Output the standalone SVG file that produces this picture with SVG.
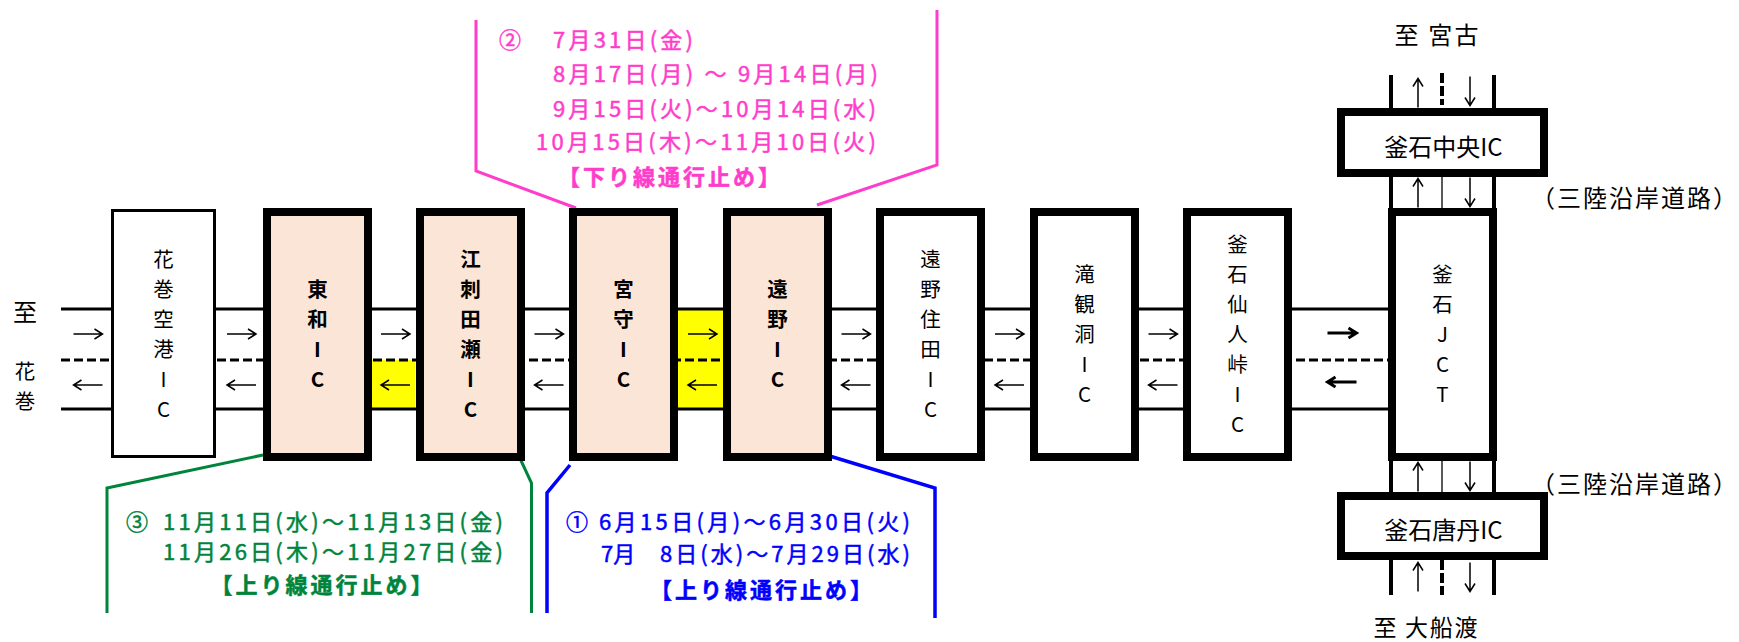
<svg xmlns="http://www.w3.org/2000/svg" xmlns:xlink="http://www.w3.org/1999/xlink" width="1739" height="642" viewBox="0 0 1739 642">
<style>
  text { font-family: "Noto Sans CJK JP", "Noto Sans", sans-serif; }
  .lbl { font-size: 24px; fill: #000; dominant-baseline: central; text-anchor: middle; }
  .v { font-size: 20.5px; }
  .b { font-weight: bold; }
  .box { stroke: #000; stroke-width: 8; }
  .peach { fill: #FBE5D6; }
  .white { fill: #FFFFFF; }
  .road { stroke: #000; stroke-width: 3; fill: none; }
  .dash { stroke: #000; stroke-width: 3; stroke-dasharray: 9 4; fill: none; }
  .vroad { stroke: #000; stroke-width: 4; fill: none; }
  .vdash { stroke: #000; stroke-width: 4; stroke-dasharray: 10 3; fill: none; }
  .thin { stroke: #000; stroke-width: 1.3; fill: none; }
  .arr { stroke: #000; stroke-width: 1.5; fill: none; }
  .arrb { stroke: #000; stroke-width: 3; fill: none; }
  .yel { fill: #FFFF00; }
  .pk { stroke: #FF3DCB; stroke-width: 3; fill: none; }
  .gr { stroke: #00843C; stroke-width: 3; fill: none; }
  .bl { stroke: #0000FF; stroke-width: 3.5; fill: none; }
  .note { font-size: 22px; dominant-baseline: central; stroke-width: 0.5; }
  .tpk { fill: #FF3DCB; stroke: #FF3DCB; }
  .tgr { fill: #00843C; stroke: #00843C; }
  .tbl { fill: #0000FF; stroke: #0000FF; }
</style>
<defs>
  <path id="ar" d="M-14.5,0 H14.5 M6.5,-5 L14.5,0 L6.5,5"/>
</defs>

<rect x="0" y="0" width="1739" height="642" fill="#FFFFFF"/>

<!-- yellow closed sections -->
<rect class="yel" x="372" y="360" width="43" height="49"/>
<rect class="yel" x="678" y="309" width="45" height="100"/>

<g id="connectors">
  <!-- main road -->
  <line class="road" x1="61" y1="309" x2="1390" y2="309"/>
  <line class="road" x1="61" y1="409" x2="1390" y2="409"/>
  <line class="dash" x1="61" y1="360" x2="1390" y2="360"/>
  <!-- arrows on main road -->
  <g class="arr">
    <use xlink:href="#ar" transform="translate(88,334)"/>
    <use xlink:href="#ar" transform="translate(88,385) rotate(180)"/>
    <use xlink:href="#ar" transform="translate(241.5,334)"/>
    <use xlink:href="#ar" transform="translate(241.5,385) rotate(180)"/>
    <use xlink:href="#ar" transform="translate(395.5,334)"/>
    <use xlink:href="#ar" transform="translate(395.5,385) rotate(180)"/>
    <use xlink:href="#ar" transform="translate(549,334)"/>
    <use xlink:href="#ar" transform="translate(549,385) rotate(180)"/>
    <use xlink:href="#ar" transform="translate(702.5,334)"/>
    <use xlink:href="#ar" transform="translate(702.5,385) rotate(180)"/>
    <use xlink:href="#ar" transform="translate(856,334)"/>
    <use xlink:href="#ar" transform="translate(856,385) rotate(180)"/>
    <use xlink:href="#ar" transform="translate(1009.5,334)"/>
    <use xlink:href="#ar" transform="translate(1009.5,385) rotate(180)"/>
    <use xlink:href="#ar" transform="translate(1163,334)"/>
    <use xlink:href="#ar" transform="translate(1163,385) rotate(180)"/>
  </g>
  <g class="arrb">
    <use xlink:href="#ar" transform="translate(1342,333)"/>
    <use xlink:href="#ar" transform="translate(1342,382) rotate(180)"/>
  </g>
  <!-- vertical road (Sanriku) -->
  <line class="vroad" x1="1391" y1="75" x2="1391" y2="108"/>
  <line class="vroad" x1="1494" y1="75" x2="1494" y2="108"/>
  <line class="vdash" x1="1442" y1="73" x2="1442" y2="105"/>
  <line class="vroad" x1="1391" y1="177" x2="1391" y2="208"/>
  <line class="vroad" x1="1494" y1="177" x2="1494" y2="208"/>
  <line class="thin" x1="1442" y1="177" x2="1442" y2="208"/>
  <line class="vroad" x1="1391" y1="461" x2="1391" y2="492"/>
  <line class="vroad" x1="1494" y1="461" x2="1494" y2="492"/>
  <line class="thin" x1="1442" y1="461" x2="1442" y2="492"/>
  <line class="vroad" x1="1391" y1="560" x2="1391" y2="595"/>
  <line class="vroad" x1="1494" y1="560" x2="1494" y2="595"/>
  <line class="vdash" x1="1442" y1="560" x2="1442" y2="595"/>
  <g class="arr">
    <use xlink:href="#ar" transform="translate(1418,93) rotate(-90)"/>
    <use xlink:href="#ar" transform="translate(1470,91) rotate(90)"/>
    <use xlink:href="#ar" transform="translate(1418,193) rotate(-90)"/>
    <use xlink:href="#ar" transform="translate(1470,192) rotate(90)"/>
    <use xlink:href="#ar" transform="translate(1418,477) rotate(-90)"/>
    <use xlink:href="#ar" transform="translate(1470,476) rotate(90)"/>
    <use xlink:href="#ar" transform="translate(1418,577) rotate(-90)"/>
    <use xlink:href="#ar" transform="translate(1470,577) rotate(90)"/>
  </g>
  <!-- callout lines -->
  <polyline class="pk" points="476,20 476,171 576,208"/>
  <polyline class="pk" points="937,10 937,165 817,205"/>
  <polyline class="gr" points="263,455 107,488 107,613"/>
  <polyline class="gr" points="517,452 531.5,483 531.5,613"/>
  <polyline class="bl" points="570,465 547,493 547,613"/>
  <polyline class="bl" points="823,454 935,488 935,618"/>
</g>

<!-- left end label -->
<g id="to-hanamaki">
  <text class="lbl" x="25" y="310">至</text>
  <text class="lbl v" x="25" y="370">花</text>
  <text class="lbl v" x="25" y="400">巻</text>
</g>

<g id="hanamakikuko">
  <rect x="112.5" y="210.5" width="102" height="246" fill="#FFFFFF" stroke="#000" stroke-width="3"/>
  <text class="lbl v" x="163.5" y="258"><tspan x="163.5">花</tspan><tspan x="163.5" dy="30">巻</tspan><tspan x="163.5" dy="30">空</tspan><tspan x="163.5" dy="30">港</tspan><tspan x="163.5" dy="30">I</tspan><tspan x="163.5" dy="30">C</tspan></text>
</g>
<g id="towa">
  <rect class="box peach" x="267" y="212" width="101" height="245"/>
  <text class="lbl v b" x="317.5" y="288"><tspan x="317.5">東</tspan><tspan x="317.5" dy="30">和</tspan><tspan x="317.5" dy="30">I</tspan><tspan x="317.5" dy="30">C</tspan></text>
</g>
<g id="esashitase">
  <rect class="box peach" x="420" y="212" width="101" height="245"/>
  <text class="lbl v b" x="470.5" y="258"><tspan x="470.5">江</tspan><tspan x="470.5" dy="30">刺</tspan><tspan x="470.5" dy="30">田</tspan><tspan x="470.5" dy="30">瀬</tspan><tspan x="470.5" dy="30">I</tspan><tspan x="470.5" dy="30">C</tspan></text>
</g>
<g id="miyamori">
  <rect class="box peach" x="573" y="212" width="101" height="245"/>
  <text class="lbl v b" x="623.5" y="288"><tspan x="623.5">宮</tspan><tspan x="623.5" dy="30">守</tspan><tspan x="623.5" dy="30">I</tspan><tspan x="623.5" dy="30">C</tspan></text>
</g>
<g id="tono">
  <rect class="box peach" x="727" y="212" width="101" height="245"/>
  <text class="lbl v b" x="777.5" y="288"><tspan x="777.5">遠</tspan><tspan x="777.5" dy="30">野</tspan><tspan x="777.5" dy="30">I</tspan><tspan x="777.5" dy="30">C</tspan></text>
</g>
<g id="tonosumita">
  <rect class="box white" x="880" y="212" width="101" height="245"/>
  <text class="lbl v" x="930.5" y="258"><tspan x="930.5">遠</tspan><tspan x="930.5" dy="30">野</tspan><tspan x="930.5" dy="30">住</tspan><tspan x="930.5" dy="30">田</tspan><tspan x="930.5" dy="30">I</tspan><tspan x="930.5" dy="30">C</tspan></text>
</g>
<g id="takikanto">
  <rect class="box white" x="1034" y="212" width="101" height="245"/>
  <text class="lbl v" x="1084.5" y="273"><tspan x="1084.5">滝</tspan><tspan x="1084.5" dy="30">観</tspan><tspan x="1084.5" dy="30">洞</tspan><tspan x="1084.5" dy="30">I</tspan><tspan x="1084.5" dy="30">C</tspan></text>
</g>
<g id="kamaishisenninto">
  <rect class="box white" x="1187" y="212" width="101" height="245"/>
  <text class="lbl v" x="1237.5" y="243"><tspan x="1237.5">釜</tspan><tspan x="1237.5" dy="30">石</tspan><tspan x="1237.5" dy="30">仙</tspan><tspan x="1237.5" dy="30">人</tspan><tspan x="1237.5" dy="30">峠</tspan><tspan x="1237.5" dy="30">I</tspan><tspan x="1237.5" dy="30">C</tspan></text>
</g>
<g id="kamaishijct">
  <rect class="box white" x="1392" y="212" width="101" height="245"/>
  <text class="lbl v" x="1442.5" y="273"><tspan x="1442.5">釜</tspan><tspan x="1442.5" dy="30">石</tspan><tspan x="1442.5" dy="30">J</tspan><tspan x="1442.5" dy="30">C</tspan><tspan x="1442.5" dy="30">T</tspan></text>
</g>
<g id="kamaishichuo">
  <rect class="box white" x="1341" y="112" width="203" height="61"/>
  <text class="lbl" x="1443.5" y="145">釜石中央IC</text>
</g>
<g id="kamaishitoni">
  <rect class="box white" x="1341" y="496" width="203" height="60"/>
  <text class="lbl" x="1443.5" y="528">釜石唐丹IC</text>
</g>
<g id="to-miyako">
  <text class="lbl" x="1436.5" y="33" textLength="84">至 宮古</text>
</g>
<g id="to-ofunato">
  <text class="lbl" x="1425.5" y="626" textLength="104" style="font-size:23px">至 大船渡</text>
</g>
<g id="sanriku-labels">
  <text class="lbl" x="1634" y="196" textLength="206">（三陸沿岸道路）</text>
  <text class="lbl" x="1634" y="482" textLength="206">（三陸沿岸道路）</text>
</g>

<!-- notes -->
<g id="note2">
  <text class="note tpk" x="499" y="38">②</text>
  <text class="note tpk" x="553" y="38" textLength="140">7月31日(金)</text>
  <text class="note tpk" x="553" y="72" textLength="325">8月17日(月) ～ 9月14日(月)</text>
  <text class="note tpk" x="553" y="107" textLength="323">9月15日(火)～10月14日(水)</text>
  <text class="note tpk" x="536" y="140" textLength="340">10月15日(木)～11月10日(火)</text>
  <text class="note tpk b" x="669" y="175" text-anchor="middle" textLength="222">【下り線通行止め】</text>
</g>
<g id="note3">
  <text class="note tgr" x="126" y="520">③</text>
  <text class="note tgr" x="163" y="520" textLength="340">11月11日(水)～11月13日(金)</text>
  <text class="note tgr" x="163" y="550" textLength="340">11月26日(木)～11月27日(金)</text>
  <text class="note tgr b" x="321.5" y="583" text-anchor="middle" textLength="222">【上り線通行止め】</text>
</g>
<g id="note1">
  <text class="note tbl" x="566" y="520">①</text>
  <text class="note tbl" x="599" y="520" textLength="311">6月15日(月)～6月30日(火)</text>
  <text class="note tbl" y="552"><tspan x="601">7月</tspan><tspan x="660" textLength="250">8日(水)～7月29日(水)</tspan></text>
  <text class="note tbl b" x="761" y="588" text-anchor="middle" textLength="222">【上り線通行止め】</text>
</g>
</svg>
